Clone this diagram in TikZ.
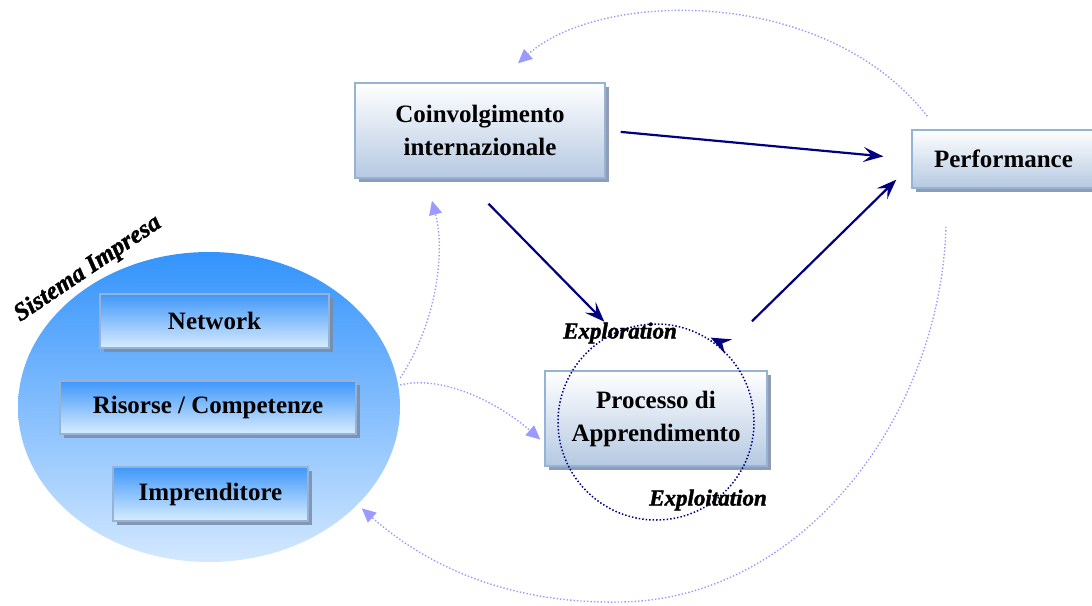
\documentclass[tikz,border=0pt]{standalone}
\usepackage{fontspec}
\setmainfont{Liberation Serif}
\newfontface\heavyit[FakeBold=1.6]{Liberation Serif Bold Italic}
\usetikzlibrary{arrows.meta,shadows,calc,shapes.geometric}
\definecolor{navyc}{HTML}{000080}
\definecolor{dotc}{HTML}{9A9AFF}
\definecolor{boxborder}{HTML}{95B3D7}
\definecolor{outerbot}{HTML}{B5C9E2}
\definecolor{innertop}{HTML}{3F97FA}
\definecolor{innerbot}{HTML}{D8ECFF}
\definecolor{shadowc}{HTML}{7C8BA3}
\definecolor{elltop}{HTML}{3393FC}
\definecolor{ellbot}{HTML}{D3E8FF}
\tikzset{
  boxbase/.style={draw=boxborder, line width=1.5pt, inner sep=0pt, align=center,
    drop shadow={shadow xshift=4pt, shadow yshift=-4pt, fill=shadowc, opacity=0.85},
    font=\fontsize{25}{33}\selectfont\bfseries},
  outerbox/.style={boxbase, top color=white, bottom color=outerbot},
  innerbox/.style={boxbase, top color=innertop, bottom color=innerbot},
  ellstyle/.style={ellipse, minimum width=382pt, minimum height=310pt, inner sep=0pt,
    top color=elltop, bottom color=ellbot},
  navyarrow/.style={draw=navyc, line width=2.2pt, -{Stealth[length=20pt,width=15pt,inset=8pt]}},
  dotarrow/.style={draw=dotc, line width=1.4pt, dotted, -{Triangle[length=14pt,width=13pt,fill=dotc]}},
  phase/.style={font=\fontsize{23}{26}\selectfont\heavyit, inner sep=0pt},
}
\begin{document}
\begin{tikzpicture}[x=1pt,y=-1pt]
\useasboundingbox (0,0) rectangle (1092,605);
% firm system
\node[ellstyle] (ell) at (209,407) {};
\node[innerbox, minimum width=229pt, minimum height=54pt] (net) at (214.5,321) {Network};
\node[innerbox, minimum width=296pt, minimum height=53pt] (ris) at (208,407.5) {Risorse / Competenze};
\node[innerbox, minimum width=195pt, minimum height=54pt] (imp) at (210.5,494) {Imprenditore};
\node[font=\fontsize{25}{28}\selectfont\heavyit, rotate=34, inner sep=0pt] (sis) at (88,269) {Sistema Impresa};
% main boxes
\node[outerbox, minimum width=250pt, minimum height=95pt] (coin) at (480,130.5) {Coinvolgimento\\internazionale};
\node[outerbox, minimum width=183pt, minimum height=58pt] (perf) at (1003.5,159) {Performance};
\node[outerbox, minimum width=222pt, minimum height=95pt] (proc) at (656,418.5) {Processo di\\Apprendimento};
% learning cycle
\node[circle, draw=navyc, dotted, line width=1.5pt, minimum size=196pt, inner sep=0pt] (cyc) at (656,422) {};
\draw[navyc, line width=1.5pt, -{Stealth[length=20pt,width=16pt,inset=7pt]}] ([xshift=6.0pt,yshift=-0.5pt]cyc.55) -- ([xshift=-2pt,yshift=3.5pt]cyc.55);
\node[phase] (explo) at (620,333) {Exploration};
\node[phase] (exploi) at (708,500) {Exploitation};
% solid arrows
\draw[navyarrow, shorten <=15pt, shorten >=28pt] (coin.east) -- (perf.west);
\draw[navyarrow, shorten <=35pt, shorten >=68pt] ([xshift=-16pt]coin.south) -- ([xshift=-4pt]proc.north);
\draw[navyarrow, shorten <=70pt, shorten >=21pt] ([xshift=46pt]proc.north) -- ([yshift=-6pt]perf.west);
% dotted feedback arrows
\draw[dotarrow] ([yshift=29pt]ell.east) .. controls (438,320) and (445,250) .. ([xshift=-48pt,yshift=-22pt]coin.south);
\draw[dotarrow] ([yshift=22pt]ell.east) .. controls (440,375) and (495,400) .. ([xshift=-4pt,yshift=-21pt]proc.west);
\draw[dotarrow] ([xshift=16pt,yshift=13pt]perf.north west) .. controls (825,-15) and (600,-10) .. ([xshift=38pt,yshift=19pt]coin.north);
\coordinate (bot) at (620,602);
\draw[dotarrow] ([xshift=-57.5pt,yshift=-38pt]perf.south) .. controls (940,420) and (800,600) .. (bot) .. controls (500,604) and (420,560) .. ([xshift=8pt]ell.-35);
\end{tikzpicture}
\end{document}
